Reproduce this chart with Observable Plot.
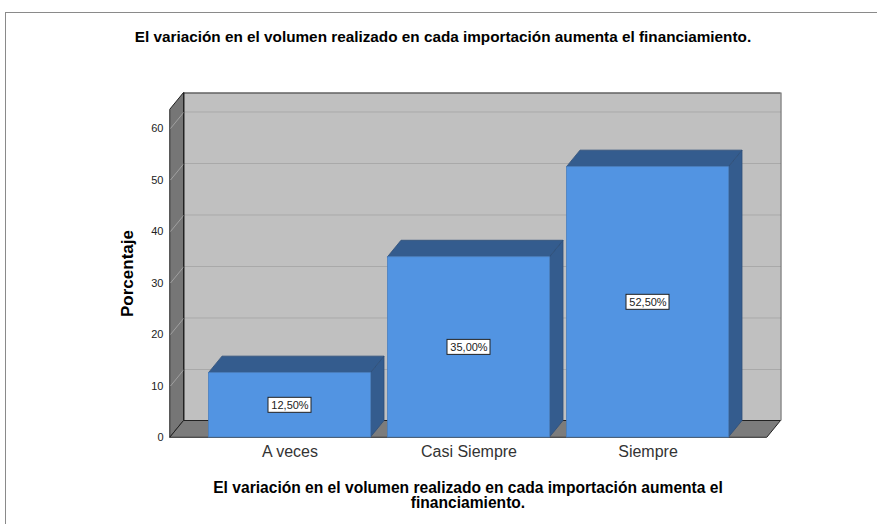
<!DOCTYPE html>
<html>
<head>
<meta charset="utf-8">
<script src="https://cdn.jsdelivr.net/npm/d3@7"></script>
<script src="https://cdn.jsdelivr.net/npm/@observablehq/plot@0.6"></script>
<style>
  body { margin: 0; background: white; font-family: "Liberation Sans", Arial, sans-serif; }
  #wrap { position: relative; width: 877px; height: 524px; overflow: hidden; }
  #border { position: absolute; left: 5px; top: 12px; width: 900px; height: 600px; border: 1px solid #8a8a8a; pointer-events: none; }
</style>
</head>
<body>
<div id="wrap"><div id="chart"></div><div id="border"></div></div>
<script>
// ---- data ----
const categories = ["A veces", "Casi Siempre", "Siempre"];
const percentages = [12.5, 35.0, 52.5];
const valueLabels = ["12,50%", "35,00%", "52,50%"];
const yTicks = [0, 10, 20, 30, 40, 50, 60];
const title = "El variación en el volumen realizado en cada importación aumenta el financiamiento.";
const xTitle = "El variación en el volumen realizado en cada importación aumenta el\nfinanciamiento.";
const yTitle = "Porcentaje";

// ---- geometry ----
const W = 877, H = 524;
const mL = 170, mR = 110, mT = 109, mB = 87;
const stepPx = 179;                 // px per category
const xHalf = (W - mL - mR) / stepPx / 2;
const x0 = 1 - xHalf, x1 = 1 + xHalf;
const pxPerY = 5.15;
const yMax = (H - mB - mT) / pxPerY;
const depthX = 13.5 / stepPx;       // depth offset in x units
const depthY = 16.5 / pxPerY;       // depth offset in y units
const hw = 81 / stepPx;             // bar half width
const boxHW = 21.5 / stepPx, boxHH = 7.5 / pxPerY;

const bars = categories.map((c, i) => ({cat: c, i, v: percentages[i], label: valueLabels[i]}));
const sides = bars.flatMap(d => [
  {cat: d.cat, x: d.i + hw, y1: 0, y2: d.v},
  {cat: d.cat, x: d.i + hw + depthX, y1: depthY, y2: d.v + depthY}
]);
const tops = bars.flatMap(d => [
  {cat: d.cat, y: d.v, x1: d.i - hw, x2: d.i + hw},
  {cat: d.cat, y: d.v + depthY, x1: d.i - hw + depthX, x2: d.i + hw + depthX}
]);
const grid = yTicks.filter(t => t > 0);

const plot = Plot.plot({
  width: W, height: H,
  marginLeft: mL, marginRight: mR, marginTop: mT, marginBottom: mB,
  style: {fontFamily: "'Liberation Sans', Arial, sans-serif", background: "transparent"},
  x: {type: "linear", domain: [x0, x1]},
  y: {type: "linear", domain: [0, yMax]},
  marks: [
    // back wall
    Plot.rect([0], {x1: x0 + depthX, x2: x1 + depthX, y1: depthY, y2: yMax + depthY, fill: "#c0c0c0"}),
    Plot.ruleY(grid, {y: d => d + depthY, x1: x0 + depthX, x2: x1 + depthX, stroke: "#a9a9a9", strokeWidth: 1}),
    Plot.ruleY([yMax + depthY], {x1: x0 + depthX, x2: x1 + depthX, stroke: "#333", strokeWidth: 1}),
    Plot.ruleX([x1 + depthX], {y1: depthY, y2: yMax + depthY, stroke: "#555", strokeWidth: 1}),
    // left wall
    Plot.areaY([{x: x0, y1: 0, y2: yMax}, {x: x0 + depthX, y1: depthY, y2: yMax + depthY}],
      {x: "x", y1: "y1", y2: "y2", fill: "#767676", stroke: "#222", strokeWidth: 1}),
    Plot.link(grid, {x1: x0, y1: d => d, x2: x0 + depthX, y2: d => d + depthY, stroke: "#a0a0a0", strokeWidth: 1}),
    // floor
    Plot.areaX([{y: 0, x1: x0, x2: x1}, {y: depthY, x1: x0 + depthX, x2: x1 + depthX}],
      {y: "y", x1: "x1", x2: "x2", fill: "#7c7c7c", stroke: "#222", strokeWidth: 1}),
    Plot.ruleX([x0 + depthX], {y1: depthY, y2: yMax + depthY, stroke: "#222", strokeWidth: 1}),
    // bars
    Plot.areaY(sides, {x: "x", y1: "y1", y2: "y2", z: "cat", fill: "#345c8e", stroke: "#2e4f78", strokeWidth: 0.8}),
    Plot.areaX(tops, {y: "y", x1: "x1", x2: "x2", z: "cat", fill: "#345c8e", stroke: "#2e4f78", strokeWidth: 0.8}),
    Plot.rect(bars, {x1: d => d.i - hw, x2: d => d.i + hw, y1: 0, y2: "v", fill: "#5294e2", stroke: "#4a7fbf", strokeWidth: 0.8}),
    // value labels
    Plot.rect(bars, {x1: d => d.i - boxHW, x2: d => d.i + boxHW, y1: d => d.v / 2 - boxHH, y2: d => d.v / 2 + boxHH,
      fill: "white", stroke: "#222", strokeWidth: 1}),
    Plot.text(bars, {x: "i", y: d => d.v / 2, text: "label", fontSize: 11, fill: "#222"}),
    // axes
    Plot.axisY({ticks: yTicks, tickSize: 0, tickPadding: 7, fontSize: 11, fill: "#222", label: null}),
    Plot.axisX({ticks: [0, 1, 2], tickFormat: i => categories[i], tickSize: 0, tickPadding: 8, fontSize: 16, fill: "#333", label: null}),
    // titles
    Plot.text([yTitle], {frameAnchor: "left", textAnchor: "middle", rotate: -90, dx: -43, fontSize: 17, fontWeight: "bold", fill: "#000"}),
    Plot.text([title], {frameAnchor: "top", lineAnchor: "middle", dy: -72, dx: -26, fontSize: 15.3, fontWeight: "bold", fill: "#000"}),
    Plot.text([xTitle], {frameAnchor: "bottom", lineAnchor: "middle", dy: 58, dx: -1, fontSize: 15.6, fontWeight: "bold", fill: "#000", lineHeight: 1.0})
  ]
});
document.getElementById("chart").appendChild(plot);
</script>
</body>
</html>
